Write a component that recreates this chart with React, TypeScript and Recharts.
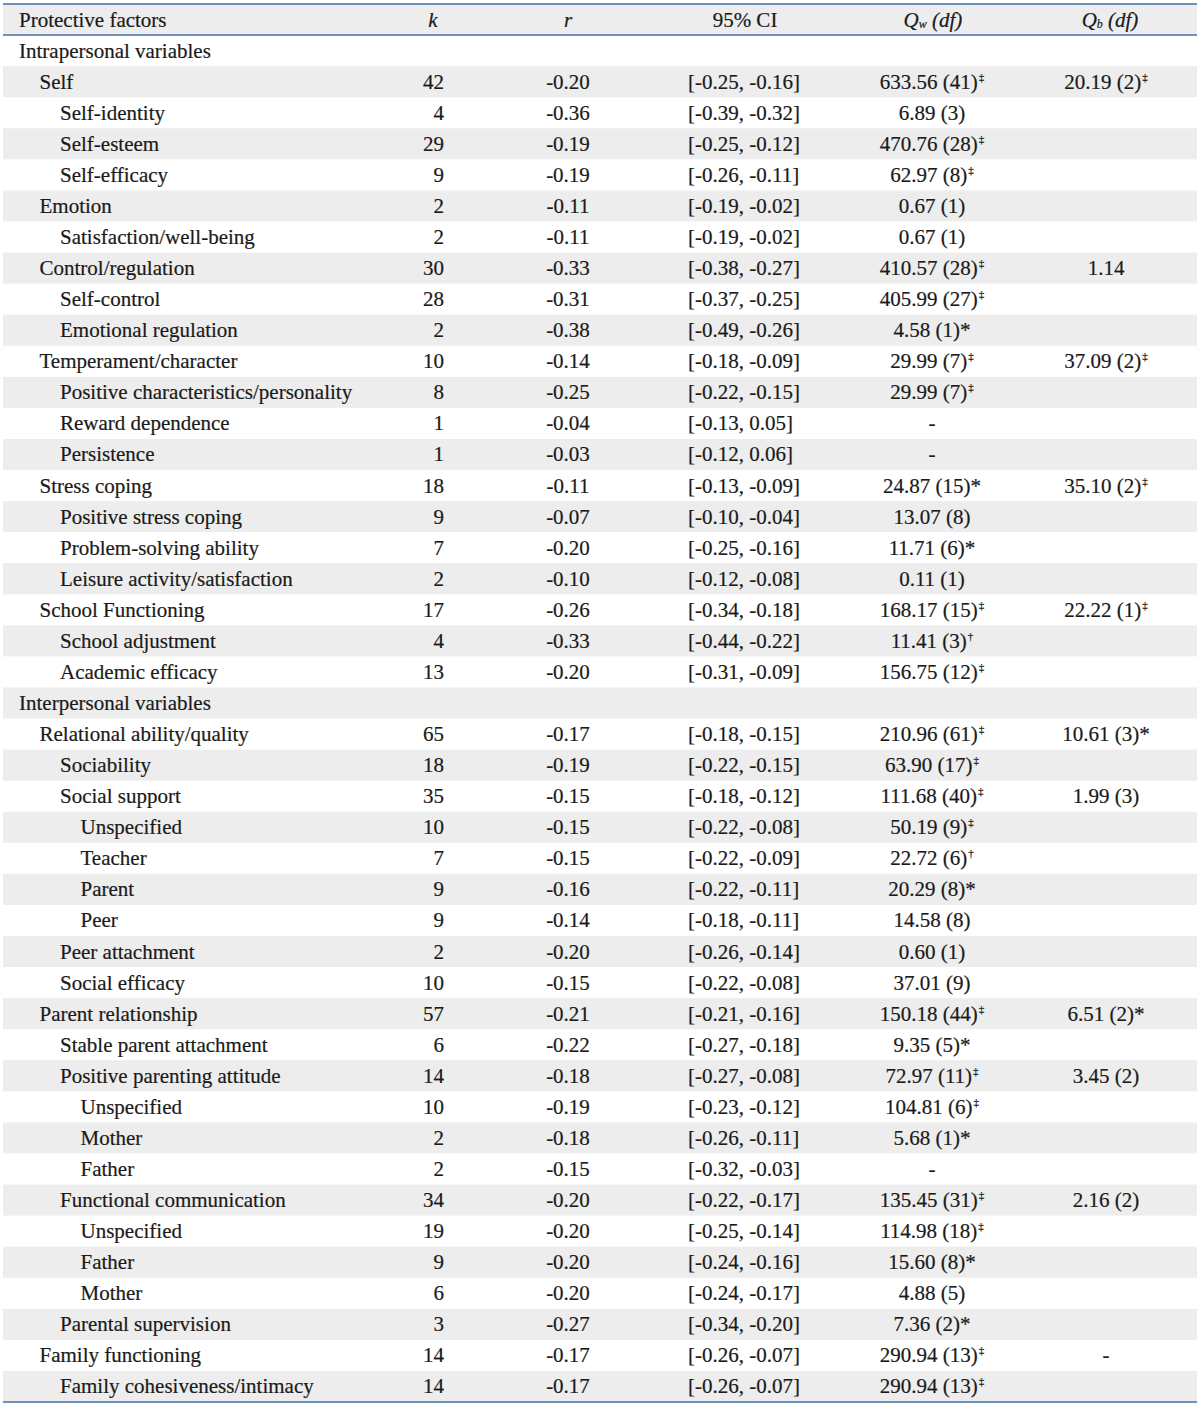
import React from "react";
import { Bar, ComposedChart, XAxis, YAxis } from "recharts";

// Row labels and indent level (0 = group, 1 = factor, 2 = sub, 3 = sub-sub)
const labels = [
  "Intrapersonal variables", "Self", "Self-identity", "Self-esteem", "Self-efficacy",
  "Emotion", "Satisfaction/well-being", "Control/regulation", "Self-control",
  "Emotional regulation", "Temperament/character", "Positive characteristics/personality",
  "Reward dependence", "Persistence", "Stress coping", "Positive stress coping",
  "Problem-solving ability", "Leisure activity/satisfaction", "School Functioning",
  "School adjustment", "Academic efficacy", "Interpersonal variables",
  "Relational ability/quality", "Sociability", "Social support", "Unspecified", "Teacher",
  "Parent", "Peer", "Peer attachment", "Social efficacy", "Parent relationship",
  "Stable parent attachment", "Positive parenting attitude", "Unspecified", "Mother",
  "Father", "Functional communication", "Unspecified", "Father", "Mother",
  "Parental supervision", "Family functioning", "Family cohesiveness/intimacy",
];
const levels = [
  0, 1, 2, 2, 2, 1, 2, 1, 2, 2, 1, 2, 2, 2, 1, 2, 2, 2, 1, 2, 2,
  0, 1, 2, 2, 3, 3, 3, 3, 2, 2, 1, 2, 2, 3, 3, 3, 2, 3, 3, 3, 2, 1, 2,
];
const kValues = [
  "", "42", "4", "29", "9", "2", "2", "30", "28", "2", "10", "8", "1", "1", "18", "9", "7", "2",
  "17", "4", "13", "", "65", "18", "35", "10", "7", "9", "9", "2", "10", "57", "6", "14", "10",
  "2", "2", "34", "19", "9", "6", "3", "14", "14",
];
const rValues = [
  "", "-0.20", "-0.36", "-0.19", "-0.19", "-0.11", "-0.11", "-0.33", "-0.31", "-0.38", "-0.14",
  "-0.25", "-0.04", "-0.03", "-0.11", "-0.07", "-0.20", "-0.10", "-0.26", "-0.33", "-0.20", "",
  "-0.17", "-0.19", "-0.15", "-0.15", "-0.15", "-0.16", "-0.14", "-0.20", "-0.15", "-0.21",
  "-0.22", "-0.18", "-0.19", "-0.18", "-0.15", "-0.20", "-0.20", "-0.20", "-0.20", "-0.27",
  "-0.17", "-0.17",
];
const ciValues = [
  "", "[-0.25, -0.16]", "[-0.39, -0.32]", "[-0.25, -0.12]", "[-0.26, -0.11]", "[-0.19, -0.02]",
  "[-0.19, -0.02]", "[-0.38, -0.27]", "[-0.37, -0.25]", "[-0.49, -0.26]", "[-0.18, -0.09]",
  "[-0.22, -0.15]", "[-0.13, 0.05]", "[-0.12, 0.06]", "[-0.13, -0.09]", "[-0.10, -0.04]",
  "[-0.25, -0.16]", "[-0.12, -0.08]", "[-0.34, -0.18]", "[-0.44, -0.22]", "[-0.31, -0.09]", "",
  "[-0.18, -0.15]", "[-0.22, -0.15]", "[-0.18, -0.12]", "[-0.22, -0.08]", "[-0.22, -0.09]",
  "[-0.22, -0.11]", "[-0.18, -0.11]", "[-0.26, -0.14]", "[-0.22, -0.08]", "[-0.21, -0.16]",
  "[-0.27, -0.18]", "[-0.27, -0.08]", "[-0.23, -0.12]", "[-0.26, -0.11]", "[-0.32, -0.03]",
  "[-0.22, -0.17]", "[-0.25, -0.14]", "[-0.24, -0.16]", "[-0.24, -0.17]", "[-0.34, -0.20]",
  "[-0.26, -0.07]", "[-0.26, -0.07]",
];
const qwValues = [
  "", "633.56 (41)", "6.89 (3)", "470.76 (28)", "62.97 (8)", "0.67 (1)", "0.67 (1)",
  "410.57 (28)", "405.99 (27)", "4.58 (1)*", "29.99 (7)", "29.99 (7)", "-", "-",
  "24.87 (15)*", "13.07 (8)", "11.71 (6)*", "0.11 (1)", "168.17 (15)", "11.41 (3)",
  "156.75 (12)", "", "210.96 (61)", "63.90 (17)", "111.68 (40)", "50.19 (9)", "22.72 (6)",
  "20.29 (8)*", "14.58 (8)", "0.60 (1)", "37.01 (9)", "150.18 (44)", "9.35 (5)*",
  "72.97 (11)", "104.81 (6)", "5.68 (1)*", "-", "135.45 (31)", "114.98 (18)", "15.60 (8)*",
  "4.88 (5)", "7.36 (2)*", "290.94 (13)", "290.94 (13)",
];
// superscript marks after Qw (‡ p<.001, † p<.01)
const qwMarks = [
  "", "‡", "", "‡", "‡", "", "", "‡", "‡", "", "‡", "‡", "", "", "", "", "", "", "‡", "†", "‡",
  "", "‡", "‡", "‡", "‡", "†", "", "", "", "", "‡", "", "‡", "‡", "", "", "‡", "‡", "", "", "",
  "‡", "‡",
];
const qbValues = [
  "", "20.19 (2)", "", "", "", "", "", "1.14", "", "", "37.09 (2)", "", "", "", "35.10 (2)",
  "", "", "", "22.22 (1)", "", "", "", "10.61 (3)*", "", "1.99 (3)", "", "", "", "", "", "",
  "6.51 (2)*", "", "3.45 (2)", "", "", "", "2.16 (2)", "", "", "", "", "-", "",
];
const qbMarks = [
  "", "‡", "", "", "", "", "", "", "", "", "‡", "", "", "", "‡", "", "", "", "‡", "", "", "",
  "", "", "", "", "", "", "", "", "", "", "", "", "", "", "", "", "", "", "", "", "", "",
];

const WIDTH = 1200;
const HEIGHT = 1406;
const TOP = 4;
const BOTTOM = 1402;
const ROW_H = (BOTTOM - TOP) / (labels.length + 1);
const LEFT = 3;
const RIGHT = 1197;
const FONT = "'Liberation Serif', 'Times New Roman', serif";
const TEXT = "#1a1a1a";
const SHADE = "#ededed";
const RULE = "#3f6fa3";

const tableData = [
  { id: "header", k: null },
  ...labels.map((label, i) => ({ id: `row-${i}`, k: kValues[i] ? Number(kValues[i]) : null })),
];

function Sup({ mark }: { mark: string }) {
  if (!mark) return null;
  return (
    <tspan dx={1} dy={-8} fontSize={11}>
      {mark}
    </tspan>
  );
}

function RowTick(props: any) {
  const { y, payload } = props;
  const id = String(payload?.value ?? "");
  const top = y - ROW_H / 2;
  const base = y + 7;
  const textProps = { fontFamily: FONT, fontSize: 21, fill: TEXT, stroke: TEXT, strokeWidth: 0.2 };

  if (id === "header") {
    return (
      <g>
        <rect x={LEFT} y={top} width={RIGHT - LEFT} height={ROW_H} fill={SHADE} />
        <line x1={LEFT} x2={RIGHT} y1={TOP} y2={TOP} stroke={RULE} strokeWidth={1.6} />
        <line x1={LEFT} x2={RIGHT} y1={top + ROW_H} y2={top + ROW_H} stroke={RULE} strokeWidth={1.4} />
        <text x={19} y={base} {...textProps}>Protective factors</text>
        <text x={433} y={base} textAnchor="middle" fontStyle="italic" {...textProps}>k</text>
        <text x={568} y={base} textAnchor="middle" fontStyle="italic" {...textProps}>r</text>
        <text x={745} y={base} textAnchor="middle" {...textProps}>95% CI</text>
        <text x={933} y={base} textAnchor="middle" fontStyle="italic" {...textProps}>
          Q<tspan fontSize={12} dy={1}>w</tspan>
          <tspan dy={-1}> (df)</tspan>
        </text>
        <text x={1110} y={base} textAnchor="middle" fontStyle="italic" {...textProps}>
          Q<tspan fontSize={12} dy={1}>b</tspan>
          <tspan dy={-1}> (df)</tspan>
        </text>
      </g>
    );
  }

  const i = Number(id.replace("row-", ""));
  if (Number.isNaN(i)) return null;
  const shaded = (i + 1) % 2 === 0;
  const isLast = i === labels.length - 1;
  return (
    <g>
      {shaded && <rect x={LEFT} y={top} width={RIGHT - LEFT} height={ROW_H} fill={SHADE} />}
      {isLast && (
        <line x1={LEFT} x2={RIGHT} y1={BOTTOM} y2={BOTTOM} stroke={RULE} strokeWidth={1.6} />
      )}
      <text x={19 + levels[i] * 20.5} y={base} {...textProps}>{labels[i]}</text>
      <text x={444} y={base} textAnchor="end" {...textProps}>{kValues[i]}</text>
      <text x={568} y={base} textAnchor="middle" {...textProps}>{rValues[i]}</text>
      <text x={688} y={base} {...textProps}>{ciValues[i]}</text>
      <text x={932} y={base} textAnchor="middle" {...textProps}>
        {qwValues[i]}
        <Sup mark={qwMarks[i]} />
      </text>
      <text x={1106} y={base} textAnchor="middle" {...textProps}>
        {qbValues[i]}
        <Sup mark={qbMarks[i]} />
      </text>
    </g>
  );
}

export default function App() {
  return (
    <div style={{ position: "absolute", left: 0, top: 0, width: WIDTH, height: HEIGHT, background: "#fff" }}>
      <ComposedChart
        width={WIDTH}
        height={HEIGHT}
        data={tableData}
        layout="vertical"
        margin={{ top: TOP, right: 0, bottom: HEIGHT - BOTTOM, left: 0 }}
      >
        <XAxis type="number" hide domain={[0, 70]} />
        <YAxis
          type="category"
          dataKey="id"
          width={20}
          interval={0}
          axisLine={false}
          tickLine={false}
          tick={(p: any) => <RowTick {...p} />}
        />
        <Bar dataKey="k" fill="none" isAnimationActive={false} />
      </ComposedChart>
    </div>
  );
}
